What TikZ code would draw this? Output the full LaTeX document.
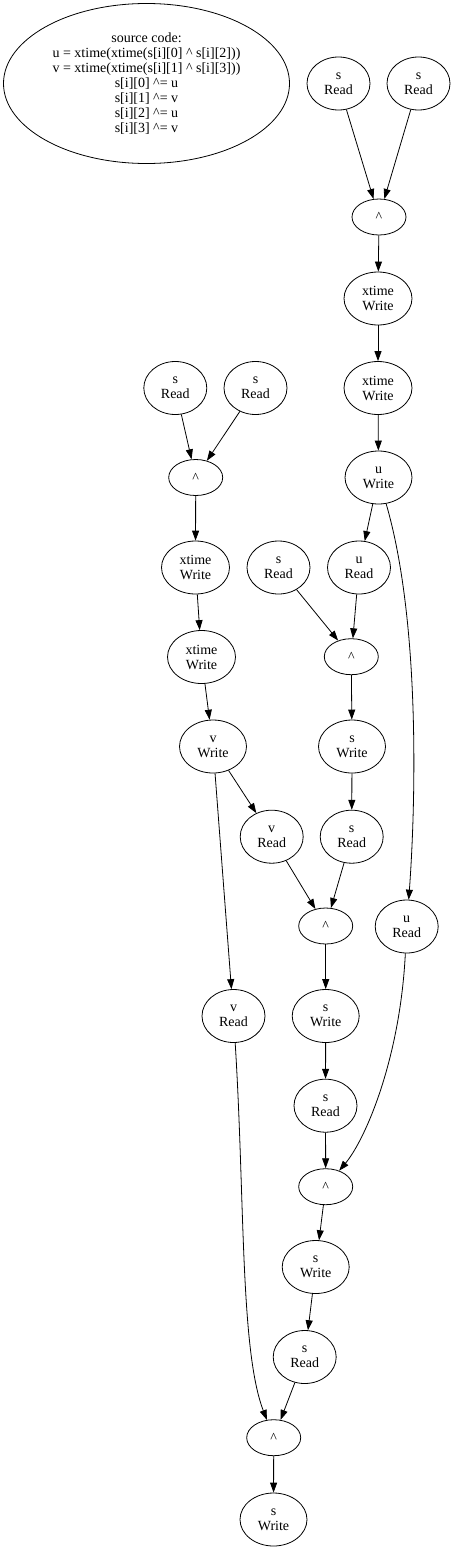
\documentclass[tikz,border=0pt]{standalone}
\usepackage{fontspec}
\setmainfont{Liberation Serif}
\usetikzlibrary{shapes.geometric,arrows.meta}
\begin{document}
\begin{tikzpicture}[x=1pt,y=-1pt,
  every node/.style={font=\fontsize{14}{15}\selectfont, align=center},
  base/.style={draw, ellipse, inner sep=0pt, line width=0.8pt},
  rdnode/.style={base, minimum width=63pt, minimum height=53pt},
  wrnode/.style={base, minimum width=67pt, minimum height=53pt},
  xtnode/.style={base, minimum width=68pt, minimum height=53pt},
  opnode/.style={base, minimum width=54pt, minimum height=36pt},
  srcnode/.style={base, minimum width=286pt, minimum height=160pt},
  edge/.style={draw, line width=0.8pt, -{Triangle[length=10pt,width=7pt]}}
]
\useasboundingbox (0,0) rectangle (454,1550);

\node[srcnode] (src) at (146.5,83.5) {source code:\\u = xtime(xtime(s[i][0] \textasciicircum{} s[i][2]))\\v = xtime(xtime(s[i][1] \textasciicircum{} s[i][3]))\\s[i][0] \textasciicircum{}= u\\s[i][1] \textasciicircum{}= v\\s[i][2] \textasciicircum{}= u\\s[i][3] \textasciicircum{}= v};

\node[rdnode] (sRA) at (338.5,83.5) {s\\Read};
\node[rdnode] (sRB) at (418.5,83.5) {s\\Read};
\node[opnode] (x1) at (379,217) {\textasciicircum};
\node[xtnode] (xW1) at (378,298.5) {xtime\\Write};
\node[xtnode] (xW2) at (378,388) {xtime\\Write};
\node[wrnode] (uW) at (378.5,477.5) {u\\Write};

\node[rdnode] (sRC) at (175.3,388) {s\\Read};
\node[rdnode] (sRD) at (255.5,388) {s\\Read};
\node[opnode] (x2) at (195.7,477.5) {\textasciicircum};
\node[xtnode] (xW3) at (195.5,567.5) {xtime\\Write};
\node[rdnode] (sRE) at (278.5,567.5) {s\\Read};
\node[rdnode] (uRF) at (359,567.5) {u\\Read};
\node[opnode] (x3) at (351.3,656.7) {\textasciicircum};
\node[xtnode] (xW4) at (201.5,657) {xtime\\Write};
\node[wrnode] (vW) at (213,746.5) {v\\Write};
\node[wrnode] (sW1) at (352,746.5) {s\\Write};
\node[rdnode] (vRG) at (271.7,836.7) {v\\Read};
\node[rdnode] (sR1) at (351.7,836.7) {s\\Read};
\node[opnode] (x4) at (325.7,926) {\textasciicircum};
\node[rdnode] (uRH) at (406.7,926.5) {u\\Read};
\node[rdnode] (vRI) at (233.5,1016) {v\\Read};
\node[wrnode] (sW2) at (325.7,1016) {s\\Write};
\node[rdnode] (sR3) at (325.5,1105.7) {s\\Read};
\node[opnode] (x5) at (325.7,1186.7) {\textasciicircum};
\node[wrnode] (sW3) at (315.7,1267) {s\\Write};
\node[rdnode] (sR4) at (304.7,1357) {s\\Read};
\node[opnode] (x6) at (273.7,1437.7) {\textasciicircum};
\node[wrnode] (sW4) at (273.5,1519.5) {s\\Write};

\path[edge] (sRA) -- (x1);
\path[edge] (sRB) -- (x1);
\path[edge] (x1) -- (xW1);
\path[edge] (xW1) -- (xW2);
\path[edge] (xW2) -- (uW);
\path[edge] (uW) -- (uRF);
\path[edge] (uW) .. controls (420,620) and (416,800) .. (uRH);
\path[edge] (sRC) -- (x2);
\path[edge] (sRD) -- (x2);
\path[edge] (x2) -- (xW3);
\path[edge] (xW3) -- (xW4);
\path[edge] (xW4) -- (vW);
\path[edge] (sRE) -- (x3);
\path[edge] (uRF) -- (x3);
\path[edge] (x3) -- (sW1);
\path[edge] (sW1) -- (sR1);
\path[edge] (vW) -- (vRG);
\path[edge] (vW) -- (vRI);
\path[edge] (vRG) -- (x4);
\path[edge] (sR1) -- (x4);
\path[edge] (x4) -- (sW2);
\path[edge] (sW2) -- (sR3);
\path[edge] (sR3) -- (x5);
\path[edge] (uRH) .. controls (400,1060) and (365,1140) .. (x5);
\path[edge] (x5) -- (sW3);
\path[edge] (sW3) -- (sR4);
\path[edge] (sR4) -- (x6);
\path[edge] (vRI) .. controls (245,1200) and (240,1350) .. (x6);
\path[edge] (x6) -- (sW4);
\end{tikzpicture}
\end{document}
